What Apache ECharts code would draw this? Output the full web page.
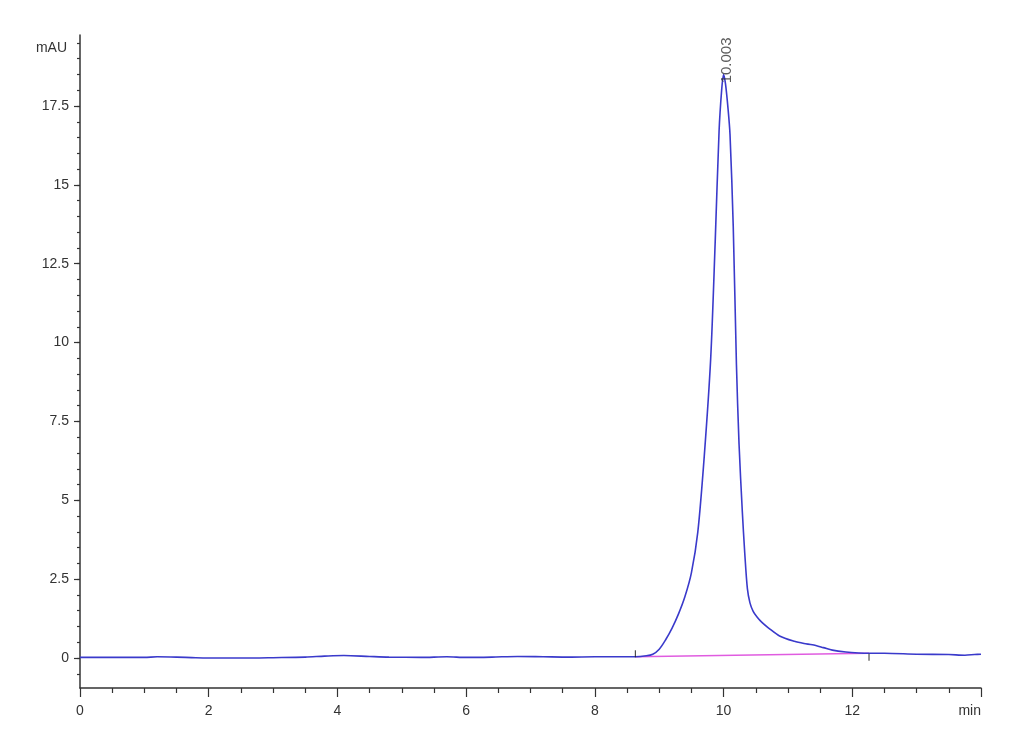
<!DOCTYPE html>
<html>
<head>
<meta charset="utf-8">
<script src="https://cdn.jsdelivr.net/npm/echarts@6/dist/echarts.min.js"></script>
<style>
html,body{margin:0;padding:0;background:#fff;}
#chart{width:1030px;height:755px;}
</style>
</head>
<body>
<div id="chart"></div>
<script>
// Retention time (min) and absorbance (mAU) of the trace
var times = [0,0.5,1.0,1.2,1.5,1.8,2.2,2.7,3.0,3.5,3.8,4.1,4.5,4.8,5.3,5.7,6.0,6.4,6.8,7.2,7.6,8.0,8.3,8.63,8.8,8.9,9.0,9.1,9.2,9.3,9.4,9.5,9.6,9.7,9.8,9.87,9.93,9.97,10.0,10.03,10.07,10.1,10.15,10.2,10.24,10.29,10.33,10.37,10.41,10.46,10.52,10.6,10.7,10.87,11.1,11.25,11.38,11.55,11.69,11.9,12.1,12.26,12.5,13.0,13.5,13.75,13.9,14.0];
var signal = [0.02,0.02,0.02,0.04,0.03,0.01,0.0,0.0,0.01,0.03,0.06,0.08,0.05,0.03,0.02,0.04,0.02,0.03,0.05,0.04,0.03,0.04,0.04,0.04,0.07,0.12,0.28,0.58,0.95,1.4,1.95,2.7,4.0,6.4,9.5,13.2,16.7,18.0,18.5,18.2,17.4,16.6,13.7,9.3,6.8,4.69,3.3,2.2,1.75,1.48,1.3,1.12,0.95,0.7,0.53,0.46,0.42,0.33,0.25,0.19,0.16,0.15,0.15,0.12,0.11,0.09,0.11,0.12];

// Integration baseline (start / end)
var baseTimes = [8.63, 12.26];
var baseValues = [0.04, 0.15];

// Peak annotation
var peakTimes = [10.003];
var peakValues = [18.5];
var peakLabels = ['10.003'];

// Axis ticks
var yTickLabels = [0, 2.5, 5, 7.5, 10, 12.5, 15, 17.5];
var yMinorTicks = [-0.5,0,0.5,1,1.5,2,2.5,3,3.5,4,4.5,5,5.5,6,6.5,7,7.5,8,8.5,9,9.5,10,10.5,11,11.5,12,12.5,13,13.5,14,14.5,15,15.5,16,16.5,17,17.5,18,18.5,19,19.5];

var FONT = '"Liberation Sans Narrow", "Liberation Sans", Arial, sans-serif';
var TXT = '#333';

function zip(a, b) { return a.map(function (v, i) { return [v, b[i]]; }); }

var chart = echarts.init(document.getElementById('chart'), null, {renderer: 'canvas'});
chart.setOption({
  animation: false,
  backgroundColor: '#fff',
  grid: {left: 80, right: 49, top: 35, bottom: 67, containLabel: false},
  xAxis: {
    type: 'value', min: 0, max: 14, interval: 2,
    name: 'min', nameLocation: 'end', nameGap: 0,
    nameTextStyle: {color: TXT, fontFamily: FONT, fontSize: 14, align: 'right', verticalAlign: 'top', padding: [16, 0, 0, 0]},
    axisLine: {show: true, onZero: false, lineStyle: {color: '#333', width: 1.5}},
    axisTick: {show: true, length: 9, lineStyle: {color: '#333', width: 1.2}},
    minorTick: {show: true, splitNumber: 4, length: 5, lineStyle: {color: '#333', width: 1.2}},
    axisLabel: {color: TXT, fontFamily: FONT, fontSize: 14, margin: 16, showMaxLabel: false},
    splitLine: {show: false}, minorSplitLine: {show: false}
  },
  yAxis: [{
    type: 'value', min: -0.95, max: 19.75,
    name: 'mAU', nameLocation: 'end', nameGap: -13,
    nameTextStyle: {color: TXT, fontFamily: FONT, fontSize: 14, align: 'right', verticalAlign: 'middle', padding: [0, 13, 0, 0]},
    axisLine: {show: true, onZero: false, lineStyle: {color: '#333', width: 1.5}},
    axisTick: {show: true, length: 6, customValues: yTickLabels, lineStyle: {color: '#333', width: 1.2}},
    axisLabel: {color: TXT, fontFamily: FONT, fontSize: 14, margin: 11, customValues: yTickLabels,
      formatter: function (v) { return String(v); }},
    splitLine: {show: false}
  }, {
    type: 'value', min: -0.95, max: 19.75, position: 'left',
    axisLine: {show: false},
    axisTick: {show: true, length: 3, customValues: yMinorTicks, lineStyle: {color: '#333', width: 1.2}},
    axisLabel: {show: false},
    splitLine: {show: false}
  }],
  series: [{
    type: 'line', name: 'signal', data: zip(times, signal),
    showSymbol: false, symbol: 'none', smooth: 0.3,
    lineStyle: {color: '#3a3acb', width: 1.6}, z: 3
  }, {
    type: 'line', name: 'baseline', data: zip(baseTimes, baseValues),
    showSymbol: false, symbol: 'none',
    lineStyle: {color: '#e05ce0', width: 1.6}, z: 2
  }, {
    type: 'scatter', name: 'start', data: [[baseTimes[0], baseValues[0]]],
    symbol: 'rect', symbolSize: [1.2, 7], symbolOffset: [0, -3],
    itemStyle: {color: '#222'}, z: 4
  }, {
    type: 'scatter', name: 'end', data: [[baseTimes[1], baseValues[1]]],
    symbol: 'rect', symbolSize: [1.2, 7], symbolOffset: [0, 4],
    itemStyle: {color: '#222'}, z: 4
  }, {
    type: 'scatter', name: 'peak', data: zip(peakTimes, peakValues),
    symbolSize: 0.1, itemStyle: {color: 'rgba(0,0,0,0)'},
    label: {show: true, position: 'inside', rotate: 90, align: 'center', verticalAlign: 'middle',
      offset: [14, 3], color: TXT, fontFamily: '"Liberation Sans", Arial, sans-serif', fontSize: 15,
      formatter: function (p) { return peakLabels[p.dataIndex]; }},
    z: 5
  }]
});
</script>
</body>
</html>
